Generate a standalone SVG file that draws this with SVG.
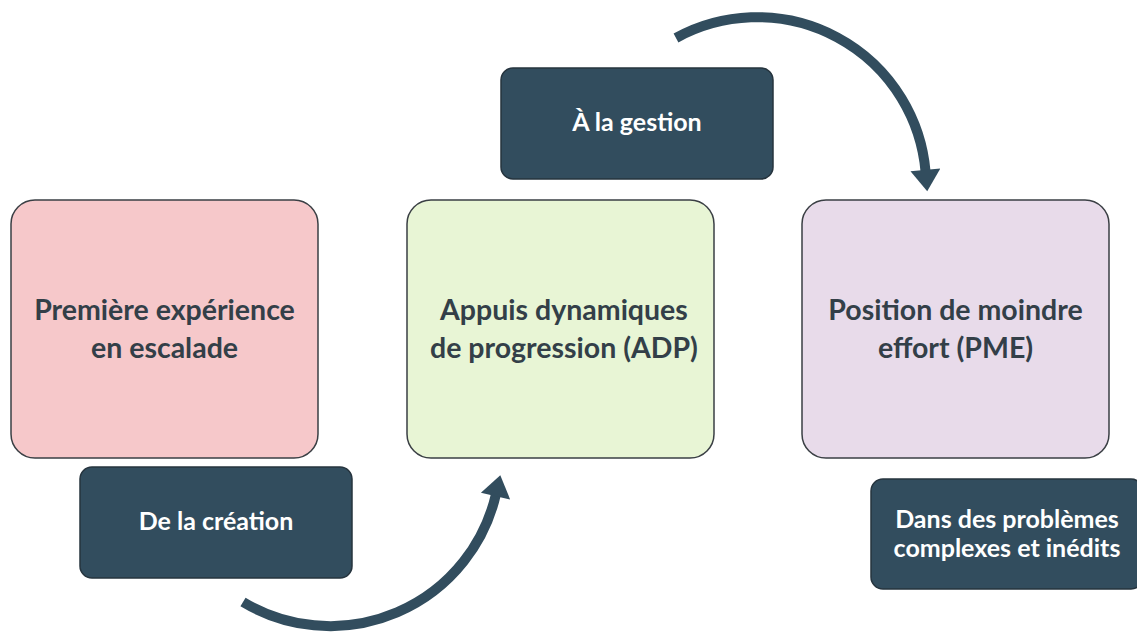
<svg xmlns="http://www.w3.org/2000/svg" width="1137" height="635" viewBox="0 0 1137 635">
<defs>
<style>
.main{stroke:#3a3f44;stroke-width:1.5}
.tag{fill:#324d5e;stroke:#26343e;stroke-width:1.5}
.t{font-family:Lato,"Open Sans",sans-serif;font-weight:bold;text-anchor:middle}
.tm{font-size:28.5px;fill:#333f48}
.tw{font-size:25px;fill:#ffffff}
.arc{fill:none;stroke:#324d5e;stroke-width:10}
</style>
<marker id="ah" markerUnits="userSpaceOnUse" markerWidth="30" markerHeight="30" viewBox="0 0 20 28" refX="2" refY="14" orient="auto">
<path d="M0,0 L20,14 L0,28 Z" fill="#324d5e"/>
</marker>
</defs>
<rect width="1137" height="635" fill="#ffffff"/>
<g id="connectors">
<path class="arc" d="M676,38 A169,169 0 0 1 925.6,172" marker-end="url(#ah)"/>
<path class="arc" d="M243,602 A170,170 0 0 0 496,494" marker-end="url(#ah)"/>
</g>
<g id="node-premiere">
<rect class="main" x="11" y="200" width="307" height="258" rx="24" fill="#f6c8ca"/>
<text class="t tm" x="164.5" y="320">Première expérience</text>
<text class="t tm" x="164.5" y="358">en escalade</text>
</g>
<g id="node-adp">
<rect class="main" x="407" y="200" width="307" height="258" rx="24" fill="#e8f5d5"/>
<text class="t tm" x="564" y="320">Appuis dynamiques</text>
<text class="t tm" x="564" y="358">de progression (ADP)</text>
</g>
<g id="node-pme">
<rect class="main" x="802" y="200" width="307" height="258" rx="24" fill="#e8dbea"/>
<text class="t tm" x="955.5" y="320">Position de moindre</text>
<text class="t tm" x="955.5" y="358">effort (PME)</text>
</g>
<g id="node-gestion">
<rect class="tag" x="501" y="68" width="272" height="111" rx="12"/>
<text class="t tw" x="637" y="131">À la gestion</text>
</g>
<g id="node-creation">
<rect class="tag" x="80" y="467" width="272" height="111" rx="12"/>
<text class="t tw" x="216" y="530">De la création</text>
</g>
<g id="node-problemes">
<rect class="tag" x="871" y="479" width="272" height="110" rx="12"/>
<text class="t tw" x="1007" y="528">Dans des problèmes</text>
<text class="t tw" x="1007" y="557">complexes et inédits</text>
</g>
</svg>
